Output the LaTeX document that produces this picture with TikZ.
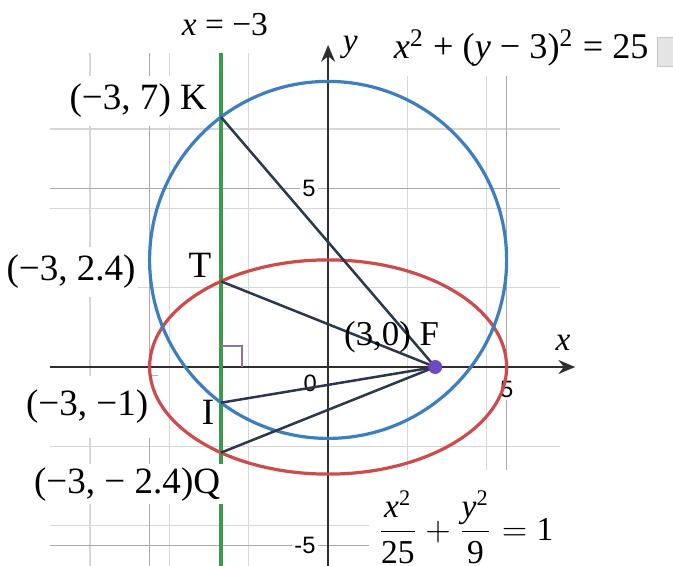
\documentclass[tikz,border=0pt]{standalone}
\usepackage{amsmath}
\usepackage{fontspec}
\setmainfont{Liberation Serif}
\setsansfont{Liberation Sans}
\usepackage{tikz}
\usetikzlibrary{arrows.meta}
\definecolor{gridlight}{HTML}{D6D6D6}
\definecolor{gridmajor}{HTML}{A9A9A9}
\definecolor{axisink}{HTML}{2E2E2E}
\definecolor{circblue}{HTML}{3D7EC1}
\definecolor{ellred}{HTML}{CC4B4B}
\definecolor{linegreen}{HTML}{3C9A48}
\definecolor{segnavy}{HTML}{2B3850}
\definecolor{focuspurple}{HTML}{6F48C2}
\definecolor{markgrey}{HTML}{8C7494}
\definecolor{boxgrey}{HTML}{E4E4E4}
\tikzset{
  % ---- grid and axes ---------------------------------------------------
  gminor/.style={draw=gridlight, line width=0.45pt},
  gmajor/.style={draw=gridmajor, line width=0.5pt},
  axisline/.style={
    -{Stealth[length=6pt,width=5pt]}, draw=axisink, line width=0.8pt},
  ticklbl/.style={font=\sffamily\fontsize{8.5}{10}\selectfont,
                  fill=white, inner sep=1pt},
  axlbl/.style={font=\large\itshape, inner sep=1pt},
  % ---- curves and segments ---------------------------------------------
  curveblue/.style={draw=circblue, line width=1.15pt},
  curvered/.style={draw=ellred, line width=1.15pt},
  vline/.style={draw=linegreen, line width=1.1pt},
  seg/.style={draw=segnavy, line width=0.9pt},
  rtmark/.style={draw=markgrey, line width=0.8pt},
  % ---- labels ------------------------------------------------------------
  ptlbl/.style={font=\fontsize{13.3}{16}\selectfont, fill=white,
                inner xsep=1pt, inner ysep=3pt},
  eqlbl/.style={font=\large, fill=white},
}

\begin{document}
\begin{tikzpicture}[x=0.45cm, y=0.45cm]
\useasboundingbox (-9.19,-5.55) rectangle (9.66,10.28);

% ---- grid --------------------------------------------------------------
\draw[gminor] (-7.8,-5.6) grid (6.5,8.8);
\foreach \g in {-5,5} {
  \draw[gmajor] (\g,-5.6) -- (\g,8.8);
  \draw[gmajor] (-7.8,\g) -- (6.5,\g);
}

% ---- axes --------------------------------------------------------------
\coordinate (xs) at (-7.8,0);
\coordinate (xe) at (6.92,0);
\coordinate (ys) at (0,-5.6);
\coordinate (ye) at (0,9.02);
\draw[axisline] (xs) -- (xe);
\draw[axisline] (ys) -- (ye);
\node[axlbl] (xlbl) at (6.58,0.67) {x};
\node[axlbl] (ylbl) at (0.62,8.96) {y};

\node[ticklbl, anchor=east] (ty5)  at (-0.26,5)  {5};
\node[ticklbl, anchor=east] (tym5) at (-0.26,-5) {-5};
\node[ticklbl] (t0)   at (-0.5,-0.45) {0};
\node[ticklbl] (tx5)  at (5,-0.62)    {5};
\node[ticklbl] (txm5) at (-5,-0.5)    {-5};

% ---- the line x = -3 -----------------------------------------------------
\coordinate (gtop) at (-3,8.8);
\coordinate (gbot) at (-3,-5.6);
\draw[vline] (gtop) -- (gbot);

% ---- labels ------------------------------------------------------------
\node[ptlbl, anchor=east] (lblK) at (-3.3,7.45) {(−3, 7)\ K};
\node[ptlbl] (lblTc) at (-7.2,2.66) {(−3, 2.4)};
\node[ptlbl] (lblT)  at (-3.59,2.86) {T};
\node[ptlbl, inner xsep=6pt, inner ysep=5pt] (lblIc) at (-6.75,-1.12) {(−3, −1)};
\node[ptlbl] (lblI)  at (-3.36,-1.26) {I};
\node[ptlbl, anchor=east, inner ysep=1.2pt] (lblQ) at (-2.93,-3.28) {(−3, − 2.4)Q};

\node[font=\large] (lblx) at (-2.89,9.58) {\textit{x} = −3};
\node[eqlbl, font=\fontsize{13}{15}\selectfont, inner xsep=10pt,
      minimum height=0.56cm] (lblcirc) at (5.41,8.94)
  {\textit{x}\textsuperscript{2} + (\textit{y} − 3)\textsuperscript{2} = 25};
\node[draw=gray!45, fill=boxgrey, inner sep=0pt, anchor=west,
      minimum width=0.6cm, minimum height=0.37cm] (gbox) at (9.22,8.82) {};
\node[eqlbl, minimum width=2.27cm, minimum height=1.44cm] (lblell) at (3.85,-4.48)
  {$\dfrac{\textit{x}^{\text{2}}}{\text{25}}+\dfrac{\textit{y}^{\text{2}}}{\text{9}}=\text{1}$};

% ---- the two curves ------------------------------------------------------
\coordinate (O) at (0,0);
\coordinate (C) at (0,3);
\draw[curvered] (O) ellipse [x radius=5, y radius=3];
\draw[curveblue] (C) circle [radius=5];

\draw[rtmark] (-3,0.59) -- (-2.41,0.59) -- (-2.41,0);

% ---- points and segments to the focus -----------------------------------
\coordinate (F) at (3,0);
\coordinate (K) at (-3,7);
\coordinate (T) at (-3,2.4);
\coordinate (I) at (-3,-1);
\coordinate (Q) at (-3,-2.4);
\foreach \p in {K,T,I,Q}
  \draw[seg] (F) -- (\p);

\node[font=\fontsize{12.5}{15}\selectfont, inner sep=1pt] (lblF) at (1.78,0.84) {(3,0)\ F};
\node[circle, fill=focuspurple, inner sep=0pt, minimum size=5pt] (Fdot) at (F) {};

\end{tikzpicture}
\end{document}
